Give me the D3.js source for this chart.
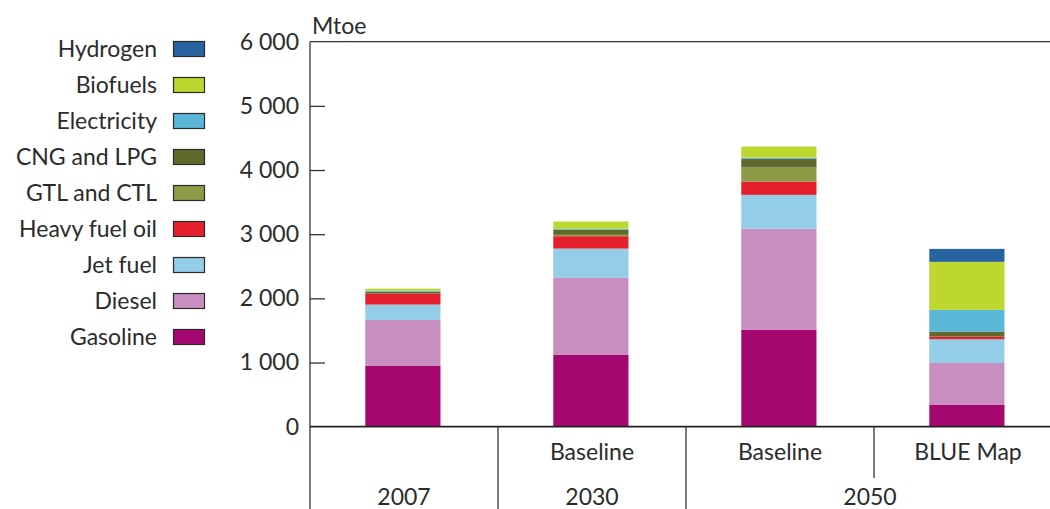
<!DOCTYPE html>
<html>
<head>
<meta charset="utf-8">
<script src="https://cdn.jsdelivr.net/npm/d3@7"></script>
<style>
  html, body { margin: 0; padding: 0; background: #fff; }
  svg { display: block; font-family: "Lato", "Open Sans", sans-serif; }
</style>
</head>
<body>
<svg id="chart" width="1050" height="509"></svg>
<script>
// Transport fuel demand by scenario (Mtoe)
const columns = ["2007", "2030 Baseline", "2050 Baseline", "2050 BLUE Map"];
const scenarioLabels = ["", "Baseline", "Baseline", "BLUE Map"];
const yearGroups = [
  { label: "2007", from: 0, to: 0 },
  { label: "2030", from: 1, to: 1 },
  { label: "2050", from: 2, to: 3 }
];

const fuels = ["Gasoline", "Diesel", "Jet fuel", "Heavy fuel oil", "GTL and CTL",
               "CNG and LPG", "Electricity", "Biofuels", "Hydrogen"];
const fuelColors = ["#a4076f", "#c98ec0", "#94cde7", "#e3202b", "#8e9a45",
                    "#606a2d", "#5ab7d7", "#bed630", "#2663a0"];

// Values per fuel, one per column
const gasoline     = [946, 1118, 1508, 338];
const diesel       = [718, 1201, 1575, 655];
const jetFuel      = [239, 457, 530, 370];
const heavyFuelOil = [171, 193, 208, 41];
const gtlCtl       = [0, 21, 218, 0];
const cngLpg       = [31, 78, 135, 78];
const electricity  = [15, 16, 20, 338];
const biofuels     = [31, 114, 172, 749];
const hydrogen     = [0, 0, 0, 202];

const yTicks = [0, 1000, 2000, 3000, 4000, 5000, 6000];

const seriesValues = [gasoline, diesel, jetFuel, heavyFuelOil, gtlCtl,
                      cngLpg, electricity, biofuels, hydrogen];

const rows = columns.map((c, i) => {
  const r = { column: c };
  fuels.forEach((f, k) => { r[f] = seriesValues[k][i]; });
  return r;
});

const svg = d3.select("#chart");
const textColor = "#2b2b2b";
const lineColor = "#333";
const fontSize = "23px";

const x = d3.scaleBand()
  .domain(columns)
  .range([310, 1062])
  .paddingInner(0.6)
  .paddingOuter(0.3)
  .align(0.49);

const y = d3.scaleLinear().domain([0, 6000]).range([426.7, 41.7]);

// Thousands separated by a space: 6 000
const numFmt = v => d3.format(",")(v).replace(/,/g, " ");

// Stacked bars
const stack = d3.stack().keys(fuels);
const layers = stack(rows);

svg.append("g")
  .selectAll("g")
  .data(layers)
  .join("g")
  .attr("fill", (d, i) => fuelColors[i])
  .selectAll("rect")
  .data(d => d)
  .join("rect")
  .attr("x", d => x(d.data.column))
  .attr("width", x.bandwidth())
  .attr("y", d => y(d[1]))
  .attr("height", d => Math.max(0, y(d[0]) - y(d[1])));

// Y axis
const yAxis = d3.axisLeft(y)
  .tickValues(yTicks)
  .tickFormat(numFmt)
  .tickSize(-15)
  .tickPadding(11);

const yg = svg.append("g").attr("transform", "translate(310,0)").call(yAxis);
yg.select(".domain").remove();
yg.selectAll(".tick line")
  .attr("stroke", lineColor)
  .attr("stroke-width", 1.3)
  .attr("display", d => (d === 0 || d === 6000) ? "none" : null);
yg.selectAll(".tick text")
  .attr("fill", textColor)
  .style("font-size", fontSize)
  .style("font-family", "Lato, 'Open Sans', sans-serif");

// Frame: top line, left axis line, baseline
svg.append("line")
  .attr("x1", 310).attr("x2", 1050)
  .attr("y1", y(6000)).attr("y2", y(6000))
  .attr("stroke", lineColor).attr("stroke-width", 1.3);
svg.append("line")
  .attr("x1", 310).attr("x2", 310)
  .attr("y1", y(6000)).attr("y2", 509)
  .attr("stroke", lineColor).attr("stroke-width", 1.3);
svg.append("line")
  .attr("x1", 310).attr("x2", 1050)
  .attr("y1", y(0)).attr("y2", y(0))
  .attr("stroke", "#222").attr("stroke-width", 1.8);

// Unit label
svg.append("text")
  .attr("x", 312).attr("y", 34)
  .attr("fill", textColor)
  .style("font-size", fontSize)
  .text("Mtoe");

// Category separators below the axis
const slotStart = i => x.range()[0] + i * x.step();
const separators = [
  { i: 1, bottom: 509 },
  { i: 2, bottom: 509 },
  { i: 3, bottom: 478 }
];
svg.append("g")
  .selectAll("line")
  .data(separators)
  .join("line")
  .attr("x1", d => slotStart(d.i)).attr("x2", d => slotStart(d.i))
  .attr("y1", y(0)).attr("y2", d => d.bottom)
  .attr("stroke", lineColor).attr("stroke-width", 1.3);

// Scenario labels
svg.append("g")
  .selectAll("text")
  .data(columns)
  .join("text")
  .attr("x", (d, i) => slotStart(i) + x.step() / 2)
  .attr("y", 460)
  .attr("text-anchor", "middle")
  .attr("fill", textColor)
  .style("font-size", fontSize)
  .text((d, i) => scenarioLabels[i]);

// Year labels
svg.append("g")
  .selectAll("text")
  .data(yearGroups)
  .join("text")
  .attr("x", d => (slotStart(d.from) + slotStart(d.to + 1)) / 2 - (d.to > d.from ? 4 : 0))
  .attr("y", 505)
  .attr("text-anchor", "middle")
  .attr("fill", textColor)
  .style("font-size", fontSize)
  .text(d => d.label);

// Legend (top entry is the top of the stack)
const legendOrder = fuels.map((f, i) => i).reverse();
const legend = svg.append("g")
  .selectAll("g")
  .data(legendOrder)
  .join("g")
  .attr("transform", (d, j) => `translate(0,${49 + j * 36})`);

legend.append("rect")
  .attr("x", 173.5).attr("y", -7.5)
  .attr("width", 31).attr("height", 15)
  .attr("fill", d => fuelColors[d])
  .attr("stroke", "#2b2b2b").attr("stroke-width", 1.2);

legend.append("text")
  .attr("x", 157).attr("y", 8)
  .attr("text-anchor", "end")
  .attr("fill", textColor)
  .style("font-size", fontSize)
  .text(d => fuels[d]);
</script>
</body>
</html>
